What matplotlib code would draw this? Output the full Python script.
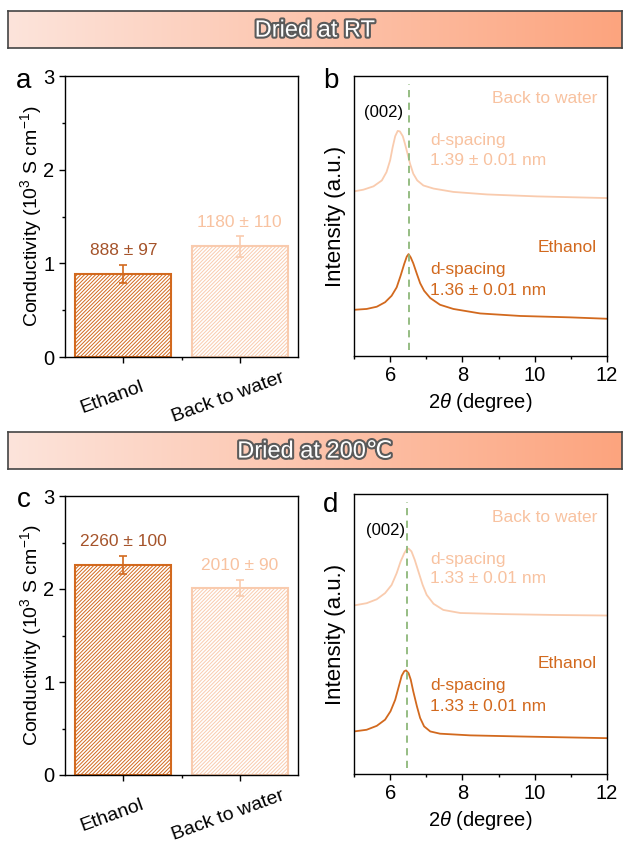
import matplotlib
matplotlib.use('Agg')
import matplotlib.pyplot as plt
import matplotlib.patheffects as pe
from matplotlib.colors import LinearSegmentedColormap
import numpy as np

plt.rcParams['font.family'] = ['Liberation Sans', 'DejaVu Sans']
plt.rcParams['mathtext.fontset'] = 'custom'
plt.rcParams['mathtext.rm'] = 'Liberation Sans'
plt.rcParams['mathtext.it'] = 'Liberation Sans:italic'
plt.rcParams['hatch.linewidth'] = 0.7

# ---- data ----
samples = ['Ethanol', 'Back to water']
cond_rt = [0.888, 1.180]
err_rt = [0.097, 0.110]
labels_rt = ['888 ± 97', '1180 ± 110']
cond_200 = [2.260, 2.010]
err_200 = [0.100, 0.090]
labels_200 = ['2260 ± 100', '2010 ± 90']

# XRD, panel b (dried at RT), intensity in arbitrary units (0-100 = axis height)
tt_water_rt = [5.0, 5.26, 5.54, 5.77, 5.90, 6.00, 6.07, 6.14, 6.21, 6.27, 6.35, 6.41, 6.48,
               6.55, 6.64, 6.75, 6.92, 7.20, 7.75, 8.68, 10.06, 12.0]
int_water_rt = [58.8, 59.4, 60.6, 62.7, 65.7, 69.9, 74.6, 78.5, 80.4, 80.2, 78.5, 75.8, 72.3,
                68.7, 65.1, 62.7, 60.9, 59.8, 58.6, 57.7, 57.0, 56.4]
tt_eth_rt = [5.0, 5.35, 5.63, 5.86, 6.04, 6.18, 6.29, 6.39, 6.46, 6.51, 6.57, 6.64, 6.74,
             6.83, 6.94, 7.11, 7.38, 7.75, 8.49, 9.60, 10.98, 12.0]
int_eth_rt = [16.5, 16.8, 17.6, 19.2, 21.5, 24.5, 28.7, 32.9, 35.5, 36.4, 35.2, 33.1, 29.3,
              26.0, 23.3, 20.7, 18.3, 16.8, 15.2, 14.3, 13.8, 13.3]
peak_rt = 6.53
dsp_rt = ['1.36 ± 0.01 nm', '1.39 ± 0.01 nm']

# XRD, panel d (dried at 200 C)
tt_water_200 = [5.0, 5.35, 5.63, 5.86, 6.04, 6.18, 6.29, 6.39, 6.46, 6.51, 6.59, 6.68, 6.78,
                6.90, 7.01, 7.20, 7.47, 7.94, 9.14, 10.52, 12.0]
int_water_200 = [60.2, 61.0, 62.4, 64.6, 67.5, 71.7, 75.9, 78.8, 80.3, 80.5, 79.5, 76.5, 72.4,
                 67.5, 64.0, 60.8, 58.6, 57.5, 57.1, 56.8, 56.6]
tt_eth_200 = [5.0, 5.35, 5.63, 5.86, 6.01, 6.14, 6.24, 6.32, 6.39, 6.44, 6.51, 6.57, 6.64,
              6.74, 6.83, 6.94, 7.11, 7.38, 8.21, 9.60, 12.0]
int_eth_200 = [15.2, 15.8, 17.2, 19.4, 22.4, 26.5, 31.3, 35.1, 36.7, 37.0, 36.0, 33.7, 29.5,
               24.2, 20.0, 17.0, 15.2, 14.4, 13.8, 13.4, 12.8]
peak_200 = 6.46
dsp_200 = ['1.33 ± 0.01 nm', '1.33 ± 0.01 nm']

eth_col = '#D2691E'
eth_txt = '#A5532A'
wat_col = '#F9CBAE'
wat_txt = '#F8C2A0'
dash_col = '#8DB87A'

W, H = 623, 843
fig = plt.figure(figsize=(W / 100, H / 100), dpi=100)


def px(x0, y_top, x1, y_bot):
    return [x0 / W, 1 - y_bot / H, (x1 - x0) / W, (y_bot - y_top) / H]


# ---- banners ----
cmap = LinearSegmentedColormap.from_list('band', ['#FDE4DB', '#FCA47E'])
for (y0, y1), title in [((11, 48), 'Dried at RT'), ((432, 469), 'Dried at 200℃')]:
    bax = fig.add_axes(px(8, y0, 622, y1))
    bax.imshow(np.linspace(0, 1, 256)[None, :], aspect='auto', cmap=cmap,
               extent=[0, 1, 0, 1])
    bax.set_xticks([])
    bax.set_yticks([])
    for s in bax.spines.values():
        s.set_color('#444444')
        s.set_linewidth(1.2)
    t = bax.text(0.5, 0.47, title, ha='center', va='center', fontsize=17,
                 color='white', transform=bax.transAxes)
    t.set_path_effects([pe.withStroke(linewidth=3, foreground='#5a5a5a')])


def bar_panel(ax, vals, errs, labels, letter, letter_xy):
    x = np.arange(len(samples))
    cols = [eth_col, wat_col]
    tcols = [eth_txt, wat_txt]
    for i in range(len(samples)):
        ax.bar(x[i], vals[i], width=0.82, facecolor='white', edgecolor=cols[i],
               hatch='/////////', linewidth=1.5, zorder=2)
        ax.errorbar(x[i], vals[i], yerr=errs[i], color=cols[i], capsize=3,
                    elinewidth=1.2, capthick=1.2, zorder=3)
        ax.text(x[i], vals[i] + errs[i] + 0.07, labels[i], ha='center',
                va='bottom', fontsize=12.5, color=tcols[i])
        # rotated category label, a bit left of and below the tick
        ax.annotate(samples[i], xy=(x[i], 0), xycoords=('data', 'axes fraction'),
                    xytext=(-8, -29), textcoords='offset points', rotation=20,
                    ha='center', va='center', fontsize=14)
    ax.set_xlim(-0.5, 1.5)
    ax.set_ylim(0, 3)
    ax.set_xticks(x)
    ax.set_xticklabels([])
    ax.set_xticks([0.5], minor=True)
    ax.set_yticks([0, 1, 2, 3])
    ax.set_yticks([0.5, 1.5, 2.5], minor=True)
    ax.tick_params(which='major', direction='out', length=4, width=1, labelsize=14.5)
    ax.tick_params(which='minor', direction='out', length=2.5, width=1)
    ax.set_ylabel('Conductivity (10$^3$ S cm$^{-1}$)', fontsize=14, labelpad=-0.5)
    for s in ax.spines.values():
        s.set_linewidth(1)
    fig.text(letter_xy[0] / W, 1 - letter_xy[1] / H, letter, fontsize=20,
             va='baseline', ha='center')


def xrd_panel(ax, tw, iw, te, ie, peak, letter, letter_xy):
    ax.plot(tw, iw, color=wat_col, lw=1.3)
    ax.plot(te, ie, color=eth_col, lw=1.3)
    ax.axvline(peak, ymin=0.02, ymax=0.97, color=dash_col, ls=(0, (4, 3)), lw=1.3)
    ax.set_xlim(5, 12)
    ax.set_ylim(0, 100)
    ax.set_yticks([])
    ax.set_xticks([6, 8, 10, 12])
    ax.set_xticks([5, 7, 9, 11], minor=True)
    ax.tick_params(which='major', direction='out', length=4, width=1, labelsize=14.5)
    ax.tick_params(which='minor', direction='out', length=2.5, width=1)
    ax.set_xlabel(r'$\mathit{2\theta}$ (degree)', fontsize=14.5)
    ax.set_ylabel('Intensity (a.u.)', fontsize=16, labelpad=6)
    for s in ax.spines.values():
        s.set_linewidth(1)
    fig.text(letter_xy[0] / W, 1 - letter_xy[1] / H, letter, fontsize=20,
             va='baseline', ha='center')


def xrd_text(ax, y_water, y_eth, dsp, y002, x002):
    ax.text(x002, y002, '(002)', ha='center', va='center', fontsize=12)
    ax.text(11.72, y_water[0], 'Back to water', ha='right', va='center', fontsize=12.5, color=wat_txt)
    ax.text(7.1, y_water[1], 'd-spacing', ha='left', va='center', fontsize=12.5, color=wat_txt)
    ax.text(7.1, y_water[2], dsp[1], ha='left', va='center', fontsize=12.5, color=wat_txt)
    ax.text(11.72, y_eth[0], 'Ethanol', ha='right', va='center', fontsize=12.5, color=eth_col)
    ax.text(7.1, y_eth[1], 'd-spacing', ha='left', va='center', fontsize=12.5, color=eth_col)
    ax.text(7.1, y_eth[2], dsp[0], ha='left', va='center', fontsize=12.5, color=eth_col)


# ---- panel a ----
ax_a = fig.add_axes(px(65, 76, 298, 357))
bar_panel(ax_a, cond_rt, err_rt, labels_rt, 'a', (24, 88))

# ---- panel b ----
ax_b = fig.add_axes(px(354, 76, 607, 356))
xrd_panel(ax_b, tt_water_rt, int_water_rt, tt_eth_rt, int_eth_rt, peak_rt, 'b', (331, 88))
xrd_text(ax_b, (91.9, 77.0, 69.9), (38.9, 30.8, 23.5), dsp_rt, 87.1, 5.81)

# ---- panel c ----
ax_c = fig.add_axes(px(65, 496, 298, 775))
bar_panel(ax_c, cond_200, err_200, labels_200, 'c', (24, 507))

# ---- panel d ----
ax_d = fig.add_axes(px(354, 494, 607, 774))
xrd_panel(ax_d, tt_water_200, int_water_200, tt_eth_200, int_eth_200, peak_200, 'd', (331, 512))
xrd_text(ax_d, (91.7, 76.7, 69.9), (39.4, 31.5, 24.1), dsp_200, 86.8, 5.86)

plt.savefig('out.png', dpi=100)
